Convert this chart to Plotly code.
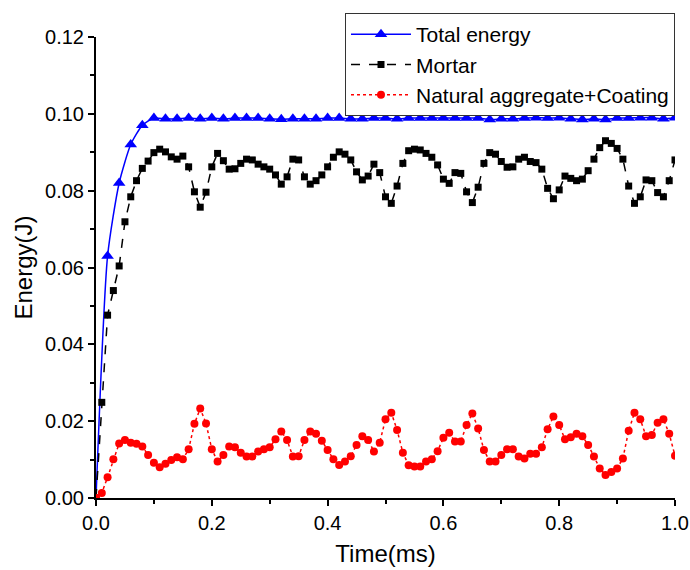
import plotly.graph_objects as go

# ---- data ----
t_total = [round(i * 0.02, 2) for i in range(51)]
total_energy = [0.0, 0.063, 0.082, 0.092, 0.097,
                0.0989, 0.0987, 0.0987, 0.0989, 0.0987, 0.0989, 0.0987, 0.0989, 0.0989, 0.0989,
                0.0987, 0.0986, 0.0987, 0.0987, 0.0987, 0.0989, 0.0989, 0.0987, 0.0987, 0.0989,
                0.0989, 0.0987, 0.0989, 0.0989, 0.0989, 0.0989, 0.0989, 0.0989, 0.0989, 0.0985,
                0.0987, 0.0987, 0.0989, 0.0990, 0.0989, 0.0990, 0.0987, 0.0985, 0.0987, 0.0985,
                0.0989, 0.0989, 0.0990, 0.0990, 0.0987, 0.0990]

t_fine = [round(i * 0.01, 2) for i in range(101)]
mortar = [0.0, 0.0249, 0.0476, 0.0540, 0.0604, 0.0719, 0.0784, 0.0826, 0.0858, 0.0877,
          0.0899, 0.0908, 0.0901, 0.0888, 0.0882, 0.0890, 0.0862, 0.0797, 0.0757, 0.0796,
          0.0862, 0.0897, 0.0878, 0.0856, 0.0857, 0.0871, 0.0882, 0.0880, 0.0869, 0.0862,
          0.0856, 0.0841, 0.0817, 0.0836, 0.0882, 0.0880, 0.0836, 0.0817, 0.0826, 0.0841,
          0.0862, 0.0887, 0.0901, 0.0895, 0.0880, 0.0849, 0.0828, 0.0838, 0.0869, 0.0847,
          0.0784, 0.0767, 0.0812, 0.0871, 0.0904, 0.0908, 0.0906, 0.0897, 0.0887, 0.0867,
          0.0830, 0.0819, 0.0847, 0.0845, 0.0797, 0.0769, 0.0809, 0.0871, 0.0899, 0.0895,
          0.0876, 0.0861, 0.0862, 0.0882, 0.0887, 0.0876, 0.0873, 0.0856, 0.0806, 0.0779,
          0.0802, 0.0838, 0.0832, 0.0826, 0.0830, 0.0852, 0.0882, 0.0912, 0.0930, 0.0923,
          0.0910, 0.0882, 0.0812, 0.0767, 0.0784, 0.0828, 0.0826, 0.0795, 0.0784, 0.0826,
          0.0880]
aggregate = [0.0, 0.0013, 0.0054, 0.0101, 0.0142, 0.0151, 0.0144, 0.0141, 0.0134, 0.0112,
             0.0092, 0.0080, 0.0089, 0.0099, 0.0106, 0.0101, 0.0127, 0.0193, 0.0233, 0.0194,
             0.0127, 0.0095, 0.0112, 0.0134, 0.0132, 0.0118, 0.0108, 0.0108, 0.0121, 0.0127,
             0.0132, 0.0153, 0.0173, 0.0151, 0.0108, 0.0109, 0.0151, 0.0173, 0.0167, 0.0149,
             0.0125, 0.0101, 0.0086, 0.0095, 0.0109, 0.0138, 0.0161, 0.0151, 0.0121, 0.0144,
             0.0205, 0.0222, 0.0177, 0.0118, 0.0085, 0.0082, 0.0082, 0.0095, 0.0101, 0.0122,
             0.0157, 0.0170, 0.0147, 0.0147, 0.0190, 0.0220, 0.0181, 0.0125, 0.0095, 0.0095,
             0.0112, 0.0127, 0.0127, 0.0108, 0.0103, 0.0115, 0.0115, 0.0132, 0.0179, 0.0212,
             0.0190, 0.0153, 0.0158, 0.0167, 0.0161, 0.0138, 0.0108, 0.0077, 0.0060, 0.0068,
             0.0077, 0.0103, 0.0175, 0.0222, 0.0205, 0.0161, 0.0164, 0.0196, 0.0205, 0.0167,
             0.0110]

FONT = "Arial, Liberation Sans, sans-serif"

fig = go.Figure()
fig.add_trace(go.Scatter(
    x=t_total, y=total_energy, name="Total energy", mode="lines+markers",
    line=dict(color="#0000FF", width=1.5, shape="spline", smoothing=0.6),
    marker=dict(symbol="triangle-up", size=11, color="#0000FF"),
))
fig.add_trace(go.Scatter(
    x=t_fine, y=mortar, name="Mortar", mode="lines+markers",
    line=dict(color="#000000", width=1.5, dash="dash"),
    marker=dict(symbol="square", size=7, color="#000000"),
))
fig.add_trace(go.Scatter(
    x=t_fine, y=aggregate, name="Natural aggregate+Coating", mode="lines+markers",
    line=dict(color="#FF0000", width=1.5, dash="dot"),
    marker=dict(symbol="circle", size=8, color="#FF0000"),
))

axis_common = dict(
    showline=True, linecolor="black", linewidth=2, mirror=False,
    ticks="outside", ticklen=6, tickwidth=1.5, tickcolor="black",
    showgrid=False, zeroline=False,
    tickfont=dict(family=FONT, size=20, color="black"),
)
fig.update_xaxes(
    range=[0, 1.0], tick0=0, dtick=0.2, tickformat=".1f",
    minor=dict(dtick=0.1, ticks="outside", ticklen=4, tickwidth=1.5, tickcolor="black"),
    title=dict(text="Time(ms)", font=dict(family=FONT, size=24, color="black"), standoff=12),
    **axis_common,
)
fig.update_yaxes(
    range=[0, 0.12], tick0=0, dtick=0.02, tickformat=".2f",
    minor=dict(dtick=0.01, ticks="outside", ticklen=4, tickwidth=1.5, tickcolor="black"),
    title=dict(text="Energy(J)", font=dict(family=FONT, size=24, color="black"), standoff=6),
    **axis_common,
)
fig.update_layout(
    width=690, height=570,
    margin=dict(l=96, r=15, t=37, b=72, autoexpand=False),
    plot_bgcolor="white", paper_bgcolor="white",
    font=dict(family=FONT, color="black"),
    legend=dict(
        x=1.0, xanchor="right", y=1.052, yanchor="top",
        bgcolor="white", bordercolor="#333333", borderwidth=1,
        font=dict(family=FONT, size=21, color="black"),
        tracegroupgap=0, itemwidth=60,
    ),
)

fig.write_html("out.html")
